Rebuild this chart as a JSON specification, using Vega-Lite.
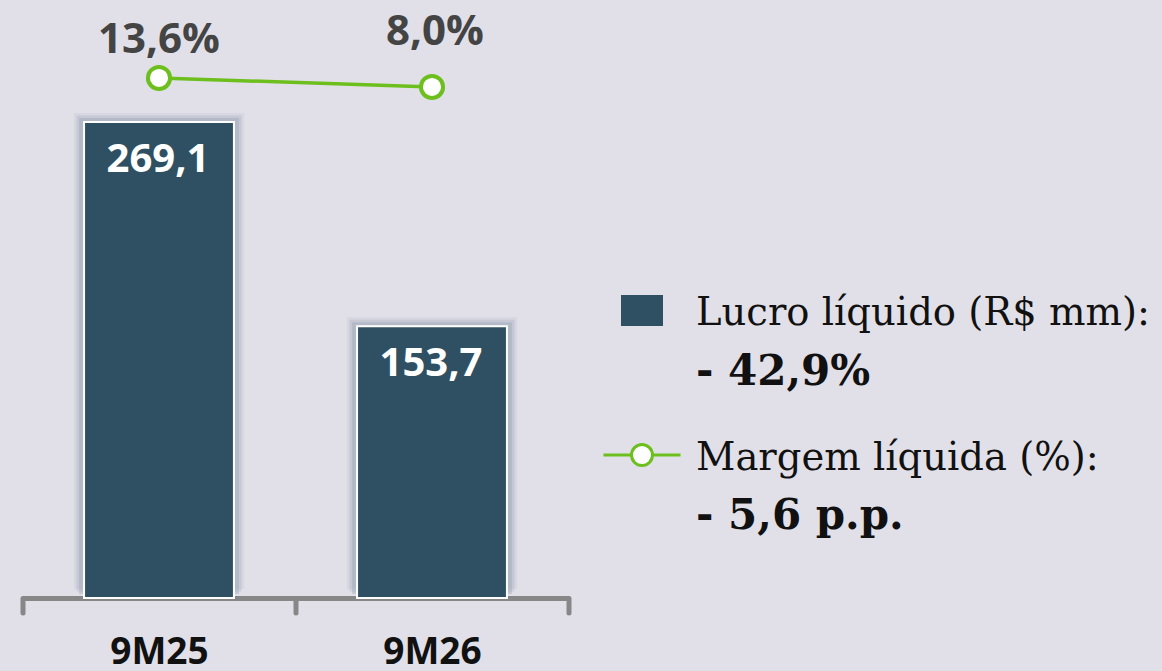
{
  "$schema": "https://vega.github.io/schema/vega-lite/v6.json",
  "background": "#e1e0e8",
  "padding": {"left": 19.5, "top": 0, "right": 20, "bottom": 0},
  "spacing": 25,
  "config": {
    "view": {"stroke": null},
    "locale": {"number": {"decimal": ",", "thousands": ".", "grouping": [3], "currency": ["R$", ""]}}
  },
  "hconcat": [
    {
      "width": 546,
      "height": 598,
      "data": {"values": [
        {"periodo": "9M25", "lucro": 269.1, "margem": 0.136},
        {"periodo": "9M26", "lucro": 153.7, "margem": 0.080}
      ]},
      "encoding": {
        "x": {
          "field": "periodo", "type": "nominal",
          "scale": {"paddingInner": 0, "paddingOuter": 0},
          "axis": {
            "title": null, "labelAngle": 0, "tickBand": "extent",
            "domainColor": "#878787", "domainWidth": 5,
            "tickColor": "#878787", "tickWidth": 5, "tickSize": 14.5, "tickCap": "round",
            "labelFont": "Open Sans", "labelFontWeight": "bold", "labelFontSize": 37,
            "labelColor": "#111111", "labelPadding": 22, "grid": false
          }
        }
      },
      "layer": [
        {
          "mark": {"type": "bar", "width": {"band": 0.625}, "color": "#8e9cab", "opacity": 0.12, "yOffset": -9},
          "encoding": {"y": {"field": "lucro", "type": "quantitative", "scale": {"domain": [0, 338.1]}, "axis": null}}
        },
        {
          "mark": {"type": "bar", "width": {"band": 0.605}, "color": "#8e9cab", "opacity": 0.22, "yOffset": -6.5},
          "encoding": {"y": {"field": "lucro", "type": "quantitative", "scale": {"domain": [0, 338.1]}, "axis": null}}
        },
        {
          "mark": {"type": "bar", "width": {"band": 0.585}, "color": "#8e9cab", "opacity": 0.35, "yOffset": -4},
          "encoding": {"y": {"field": "lucro", "type": "quantitative", "scale": {"domain": [0, 338.1]}, "axis": null}}
        },
        {
          "mark": {"type": "bar", "width": {"band": 0.549}, "color": "#2f5062", "stroke": "white", "strokeWidth": 2},
          "encoding": {"y": {"field": "lucro", "type": "quantitative", "scale": {"domain": [0, 338.1]}, "axis": null}}
        },
        {
          "mark": {"type": "text", "font": "Open Sans", "fontWeight": "bold", "fontSize": 40, "color": "white", "baseline": "alphabetic", "dy": 50, "dx": -1},
          "encoding": {
            "y": {"field": "lucro", "type": "quantitative", "scale": {"domain": [0, 338.1]}, "axis": null},
            "text": {"field": "lucro", "type": "quantitative", "format": ".1f"}
          }
        },
        {
          "mark": {"type": "line", "color": "#6cbf1d", "strokeWidth": 3.5},
          "encoding": {"y": {"field": "margem", "type": "quantitative", "scale": {"domain": [-3.10, 0.621]}, "axis": null}}
        },
        {
          "mark": {"type": "point", "shape": "circle", "size": 490, "filled": true, "fill": "white", "stroke": "#6cbf1d", "strokeWidth": 4, "opacity": 1},
          "encoding": {"y": {"field": "margem", "type": "quantitative", "scale": {"domain": [-3.10, 0.621]}, "axis": null}}
        },
        {
          "transform": [{"filter": "datum.periodo === '9M25'"}],
          "mark": {"type": "text", "font": "Open Sans", "fontWeight": "bold", "fontSize": 42, "color": "#444444", "baseline": "alphabetic", "dy": -25},
          "encoding": {
            "y": {"field": "margem", "type": "quantitative", "scale": {"domain": [-3.10, 0.621]}, "axis": null},
            "text": {"field": "margem", "type": "quantitative", "format": ".1%"}
          }
        },
        {
          "transform": [{"filter": "datum.periodo === '9M26'"}],
          "mark": {"type": "text", "font": "Open Sans", "fontWeight": "bold", "fontSize": 42, "color": "#444444", "baseline": "alphabetic", "dy": -42, "dx": 3},
          "encoding": {
            "y": {"field": "margem", "type": "quantitative", "scale": {"domain": [-3.10, 0.621]}, "axis": null},
            "text": {"field": "margem", "type": "quantitative", "format": ".1%"}
          }
        }
      ],
      "resolve": {"scale": {"y": "independent"}}
    },
    {
      "width": 1,
      "height": 598,
      "data": {"values": [
        {"ordem": 1, "serie": "Lucro líquido (R$ mm):", "variacao": "- 42,9%"},
        {"ordem": 2, "serie": "Margem líquida (%):", "variacao": "- 5,6 p.p."}
      ]},
      "encoding": {
        "y": {
          "field": "ordem", "type": "quantitative",
          "scale": {"domain": [-1.149, 2.989], "reverse": true, "zero": false, "nice": false},
          "axis": null
        }
      },
      "layer": [
        {
          "transform": [{"filter": "datum.ordem === 1"}],
          "mark": {"type": "point", "shape": "M-1,-0.74H1V0.74H-1Z", "size": 1764, "filled": true, "fill": "#2f5062", "strokeWidth": 0, "opacity": 1}
        },
        {
          "transform": [{"filter": "datum.ordem === 2"}],
          "mark": {"type": "point", "shape": "M-3.67,0H-1M1,0H3.67M-1,0A1,1 0 1,0 1,0A1,1 0 1,0 -1,0", "size": 441, "filled": true, "fill": "white", "stroke": "#6cbf1d", "strokeWidth": 3, "opacity": 1}
        },
        {
          "mark": {"type": "text", "font": "DejaVu Serif", "fontSize": 38.5, "color": "#111111", "align": "left", "baseline": "alphabetic", "dx": 54, "dy": 14.5},
          "encoding": {"text": {"field": "serie"}}
        },
        {
          "mark": {"type": "text", "font": "DejaVu Serif", "fontWeight": "bold", "fontSize": 42, "color": "#111111", "align": "left", "baseline": "alphabetic", "dx": 54, "dy": 74},
          "encoding": {"text": {"field": "variacao"}}
        }
      ]
    }
  ]
}
